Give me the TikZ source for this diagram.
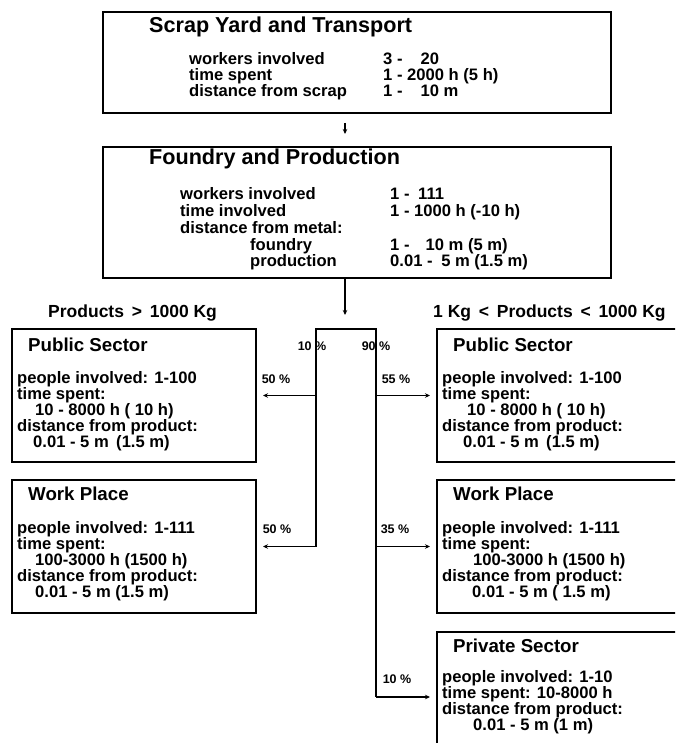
\documentclass[tikz,border=0pt]{standalone}
\usepackage{fontspec}
\setmainfont{Liberation Sans}
\usetikzlibrary{arrows.meta}
\newcommand\stackrows[2]{\vtop{\baselineskip=#1\relax\lineskiplimit=-20pt\relax\lineskip=0pt\relax #2}}
\newcommand\rw[1]{\hbox{#1}}
\tikzset{
  box/.style={draw, line width=1.4pt, anchor=north west, inner sep=0pt, outer sep=0pt},
  txt/.style={anchor=base west, inner sep=0pt, font=\bfseries\fontsize{16.6}{16}\selectfont},
  ttl/.style={anchor=base west, inner sep=0pt, font=\bfseries\fontsize{18.7}{20}\selectfont},
  bigttl/.style={anchor=base west, inner sep=0pt, font=\bfseries\fontsize{21.6}{23}\selectfont},
  head/.style={anchor=base west, inner sep=0pt, font=\bfseries\fontsize{17.5}{19}\selectfont},
  pct/.style={anchor=base, inner sep=0pt, font=\bfseries\fontsize{12.5}{14}\selectfont},
  conn/.style={line width=1.2pt},
  arr/.style={conn, -{Stealth[length=5pt,width=4.5pt]}}
}
\begin{document}
\begin{tikzpicture}[x=1pt,y=-1pt]
\useasboundingbox (0,0) rectangle (675,743);
\fill[white] (0,0) rectangle (675,743);
\clip (0,0) rectangle (675,743);

% boxes
\node[box, minimum width=508pt, minimum height=101pt] (scrap) at (103,12) {};
\node[box, minimum width=508pt, minimum height=131pt] (found) at (103,147) {};
\node[box, minimum width=244pt, minimum height=133pt] (lpub) at (12,329) {};
\node[box, minimum width=244pt, minimum height=133pt] (lwork) at (12,480) {};
\node[box, minimum width=253pt, minimum height=133pt] (rpub) at (437,329) {};
\node[box, minimum width=253pt, minimum height=133pt] (rwork) at (437,480) {};
\node[box, minimum width=253pt, minimum height=130pt] (priv) at (437,632) {};

% top box text
\node[bigttl] (scrapT) at (149,33) {Scrap Yard and Transport};
\node[txt] (scrapL) at (189,65) {\stackrows{16pt}{\rw{workers involved}\rw{time spent}\rw{distance from scrap}}};
\node[txt] (scrapV) at (383,65) {\stackrows{16pt}{\rw{3 -\hspace*{18pt}20}\rw{1 - 2000 h (5 h)}\rw{1 -\hspace*{18pt}10 m}}};

% foundry text
\node[bigttl] (foundT) at (149,165) {Foundry and Production};
\node[txt] (foundL) at (180,200) {\stackrows{16.7pt}{\rw{workers involved}\rw{time involved}\rw{distance from metal:}\rw{\hspace*{70pt}foundry}\rw{\hspace*{70pt}production}}};
\node[txt] (foundV) at (390,200) {\stackrows{16.7pt}{\rw{1 -\hspace*{4pt} 111}\rw{1 - 1000 h (-10 h)}\rw{}\rw{1 -\hspace*{16pt}10 m (5 m)}\rw{0.01 -\hspace*{4pt} 5 m (1.5 m)}}};

% headings
\node[head] (hL) at (48,317) {Products\, >\, 1000 Kg};
\node[head] (hR) at (433,317) {1 Kg\, <\, Products\, <\, 1000 Kg};

% left public
\node[ttl] (lpubT) at (28,351) {Public Sector};
\node[txt] (lpubB) at (17,383) {\stackrows{16.2pt}{\rw{people involved: 1-100}\rw{time spent:}\rw{\hspace*{18pt}10 - 8000 h ( 10 h)}\rw{distance from product:}\rw{\hspace*{16pt}0.01 - 5 m\, (1.5 m)}}};
% left work
\node[ttl] (lworkT) at (28,500) {Work Place};
\node[txt] (lworkB) at (17,533) {\stackrows{16.2pt}{\rw{people involved: 1-111}\rw{time spent:}\rw{\hspace*{18pt}100-3000 h (1500 h)}\rw{distance from product:}\rw{\hspace*{18pt}0.01 - 5 m (1.5 m)}}};
% right public
\node[ttl] (rpubT) at (453,351) {Public Sector};
\node[txt] (rpubB) at (442,383) {\stackrows{16.2pt}{\rw{people involved: 1-100}\rw{time spent:}\rw{\hspace*{25pt}10 - 8000 h ( 10 h)}\rw{distance from product:}\rw{\hspace*{21pt}0.01 - 5 m\, (1.5 m)}}};
% right work
\node[ttl] (rworkT) at (453,500) {Work Place};
\node[txt] (rworkB) at (442,533) {\stackrows{16.2pt}{\rw{people involved: 1-111}\rw{time spent:}\rw{\hspace*{31pt}100-3000 h (1500 h)}\rw{distance from product:}\rw{\hspace*{30pt}0.01 - 5 m ( 1.5 m)}}};
% private
\node[ttl] (privT) at (453,652) {Private Sector};
\node[txt] (privB) at (442,682) {\stackrows{16pt}{\rw{people involved: 1-10}\rw{time spent: 10-8000 h}\rw{distance from product:}\rw{\hspace*{31pt}0.01 - 5 m (1 m)}}};

% connectors
\coordinate (mid) at (345,123);
\draw[arr] (mid) -- (mid |- found.north) [shorten >=13pt];
\draw[arr] (found.south -| mid) -- ++(0,37);
\coordinate (brL) at (316,329);
\coordinate (brR) at (376,329);
\draw[conn] (brL |- lwork.east) -- (brL) -- (brR) -- (brR |- priv.west);
\draw[arr, shorten >=7pt] (brL |- lpub.east) -- (lpub.east);
\draw[arr, shorten >=7pt] (brL |- lwork.east) -- (lwork.east);
\draw[arr, shorten >=7pt] (brR |- rpub.west) -- (rpub.west);
\draw[arr, shorten >=7pt] (brR |- rwork.west) -- (rwork.west);
\draw[arr, shorten >=7pt] (brR |- priv.west) -- (priv.west);

% percentages
\node[pct] (p10a) at (312,350) {10 \%};
\node[pct] (p90) at (376,350) {90 \%};
\node[pct] (p50a) at (276,383) {50 \%};
\node[pct] (p55) at (396,383) {55 \%};
\node[pct] (p50b) at (277,533) {50 \%};
\node[pct] (p35) at (395,533) {35 \%};
\node[pct] (p10b) at (397,683) {10 \%};
\end{tikzpicture}
\end{document}
